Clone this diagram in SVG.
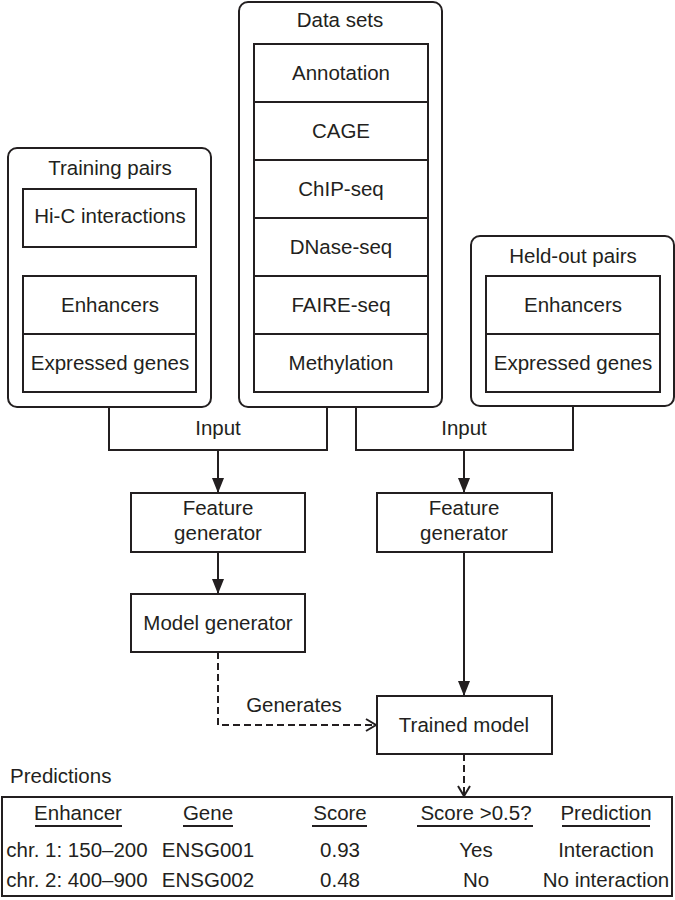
<svg xmlns="http://www.w3.org/2000/svg" width="675" height="900" viewBox="0 0 675 900">
<defs>
<style>
.box{fill:#fff;stroke:#231f20;stroke-width:2}
.rbox{fill:#fff;stroke:#231f20;stroke-width:2}
.ln{fill:none;stroke:#231f20;stroke-width:2}
.dash{fill:none;stroke:#231f20;stroke-width:2;stroke-dasharray:7 4}
text{font-family:"Liberation Sans",Arial,Helvetica,sans-serif;font-size:20.5px;fill:#231f20;text-anchor:middle}
.l{text-anchor:start}
</style>
<marker id="oa" viewBox="-12 -7 14 14" refX="0" refY="0" markerWidth="14" markerHeight="14" markerUnits="userSpaceOnUse" orient="auto">
<path d="M-10,-6 L0,0 L-10,6" fill="none" stroke="#231f20" stroke-width="2"/>
</marker>
<marker id="fb" viewBox="0 0 15 12" refX="15" refY="6" markerWidth="15" markerHeight="12" markerUnits="userSpaceOnUse" orient="auto">
<path d="M0,0 L15,6 L0,12 Z" fill="#231f20"/>
</marker>
</defs>
<g id="connectors">
<polyline class="ln" points="109,407 109,450 327,450 327,407"/>
<polyline class="ln" points="356,407 356,450 573,450 573,406"/>
<line class="ln" x1="218" y1="450" x2="218" y2="493" marker-end="url(#fb)"/>
<line class="ln" x1="464" y1="450" x2="464" y2="493" marker-end="url(#fb)"/>
<line class="ln" x1="218" y1="552" x2="218" y2="594" marker-end="url(#fb)"/>
<line class="ln" x1="464" y1="552" x2="464" y2="696" marker-end="url(#fb)"/>
<polyline class="dash" points="218,652 218,725 376,725" marker-end="url(#oa)"/>
<line class="dash" x1="464" y1="754" x2="464" y2="796" marker-end="url(#oa)"/>
<text x="218" y="435">Input</text>
<text x="464" y="435">Input</text>
<text x="294" y="712">Generates</text>
</g>
<g id="training-pairs">
<rect class="rbox" x="8" y="148" width="203" height="259" rx="9"/>
<text x="110" y="175">Training pairs</text>
<rect class="box" x="23" y="189" width="173" height="58"/>
<text x="110" y="223">Hi-C interactions</text>
<rect class="box" x="23" y="276" width="173" height="116"/>
<line class="ln" x1="23" y1="334" x2="196" y2="334"/>
<text x="110" y="312">Enhancers</text>
<text x="110" y="370">Expressed genes</text>
</g>
<g id="data-sets">
<rect class="rbox" x="239" y="2" width="203" height="405" rx="9"/>
<text x="340" y="27">Data sets</text>
<rect class="box" x="254" y="44" width="174" height="348"/>
<line class="ln" x1="254" y1="102" x2="428" y2="102"/>
<line class="ln" x1="254" y1="160" x2="428" y2="160"/>
<line class="ln" x1="254" y1="218" x2="428" y2="218"/>
<line class="ln" x1="254" y1="276" x2="428" y2="276"/>
<line class="ln" x1="254" y1="334" x2="428" y2="334"/>
<text x="341" y="80">Annotation</text>
<text x="341" y="138">CAGE</text>
<text x="341" y="196">ChIP-seq</text>
<text x="341" y="254">DNase-seq</text>
<text x="341" y="312">FAIRE-seq</text>
<text x="341" y="370">Methylation</text>
</g>
<g id="held-out-pairs">
<rect class="rbox" x="471" y="236" width="203" height="170" rx="9"/>
<text x="573" y="263">Held-out pairs</text>
<rect class="box" x="486" y="276" width="174" height="116"/>
<line class="ln" x1="486" y1="334" x2="660" y2="334"/>
<text x="573" y="312">Enhancers</text>
<text x="573" y="370">Expressed genes</text>
</g>
<g id="feature-generator-left">
<rect class="box" x="131" y="493" width="174" height="59"/>
<text x="218" y="515">Feature</text>
<text x="218" y="540">generator</text>
</g>
<g id="feature-generator-right">
<rect class="box" x="377" y="493" width="175" height="59"/>
<text x="464" y="515">Feature</text>
<text x="464" y="540">generator</text>
</g>
<g id="model-generator">
<rect class="box" x="131" y="594" width="174" height="58"/>
<text x="218" y="630">Model generator</text>
</g>
<g id="trained-model">
<rect class="box" x="377" y="696" width="175" height="58"/>
<text x="464" y="732">Trained model</text>
</g>
<g id="predictions">
<text class="l" x="10" y="783">Predictions</text>
<rect class="box" x="2" y="797" width="670" height="99"/>
<text x="78" y="820">Enhancer</text>
<text x="208" y="820">Gene</text>
<text x="340" y="820">Score</text>
<text x="476" y="820">Score &gt;0.5?</text>
<text x="606" y="820">Prediction</text>
<line class="ln" x1="35" y1="826" x2="122" y2="826"/>
<line class="ln" x1="183" y1="826" x2="233" y2="826"/>
<line class="ln" x1="312" y1="826" x2="367" y2="826"/>
<line class="ln" x1="417" y1="826" x2="533" y2="826"/>
<line class="ln" x1="562" y1="826" x2="650" y2="826"/>
<text x="77" y="857">chr. 1: 150–200</text>
<text x="208" y="857">ENSG001</text>
<text x="340" y="857">0.93</text>
<text x="476" y="857">Yes</text>
<text x="606" y="857">Interaction</text>
<text x="77" y="887">chr. 2: 400–900</text>
<text x="208" y="887">ENSG002</text>
<text x="340" y="887">0.48</text>
<text x="476" y="887">No</text>
<text x="606" y="887">No interaction</text>
</g>
</svg>
